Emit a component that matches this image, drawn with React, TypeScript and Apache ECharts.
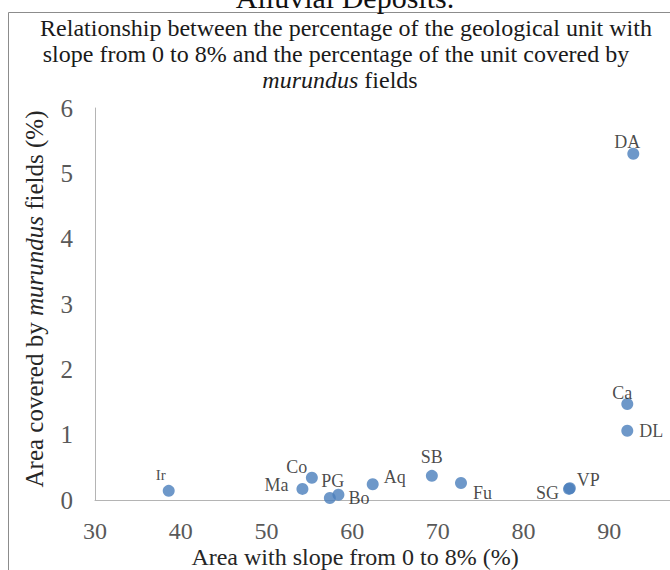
import React, { useEffect, useRef } from "react";
import * as echarts from "echarts";

const unitNames = ["DA", "Ca", "DL", "VP", "SG", "Fu", "SB", "Aq", "PG", "Bo", "Co", "Ma", "Ir"];
const slopeArea = [92.8, 92.1, 92.1, 85.4, 85.3, 72.7, 69.3, 62.4, 57.4, 58.4, 55.3, 54.2, 38.6];
const murundusArea = [5.3, 1.47, 1.06, 0.18, 0.17, 0.26, 0.37, 0.24, 0.03, 0.08, 0.34, 0.17, 0.14];
const xTicks = [30, 40, 50, 60, 70, 80, 90, 100];
const yTicks = [0, 1, 2, 3, 4, 5, 6];

const titleLine1 = [{ text: "Relationship between the percentage of the geological unit with", italic: false }];
const titleLine2 = [{ text: "slope from 0 to 8% and the percentage of the unit covered by", italic: false }];
const titleLine3 = [
  { text: "murundus", italic: true },
  { text: " fields", italic: false },
];
const yName = [
  { text: "Area covered by ", italic: false },
  { text: "murundus", italic: true },
  { text: " fields (%)", italic: false },
];
const xName = [{ text: "Area with slope from 0 to 8% (%)", italic: false }];
const topCaption = "Alluvial Deposits.";

const labelPlacement: Record<string, any> = {
  DA: { position: "top", distance: -3, offset: [-6, 0] },
  Ca: { position: "top", distance: -4, offset: [-5, 0] },
  DL: { position: "right", distance: 6, offset: [0, 0] },
  VP: { position: "right", distance: 1, offset: [0, -8] },
  SG: { position: "left", distance: 4, offset: [0, 4] },
  Fu: { position: "right", distance: 6, offset: [0, 10] },
  SB: { position: "top", distance: 4, offset: [0, 0] },
  Aq: { position: "right", distance: 5, offset: [0, -7] },
  PG: { position: "top", distance: 2, offset: [3, 0] },
  Bo: { position: "right", distance: 4, offset: [0, 3] },
  Co: { position: "top", distance: -4, offset: [-15, 0] },
  Ma: { position: "left", distance: 8, offset: [0, -4] },
  Ir: { position: "top", distance: 2, offset: [-8, 0], fontSize: 15 },
};

const SERIF = "Liberation Serif";

function measure(text: string, size: number, italic: boolean, family: string) {
  const ctx = document.createElement("canvas").getContext("2d");
  if (!ctx) return text.length * size * 0.45;
  ctx.font = `${italic ? "italic " : ""}${size}px "${family}"`;
  return ctx.measureText(text).width;
}

function segmentTexts(segs: { text: string; italic: boolean }[], size: number, color: string, family: string) {
  const widths = segs.map((s) => measure(s.text, size, s.italic, family));
  const total = widths.reduce((a, b) => a + b, 0);
  let cursor = -total / 2;
  return segs.map((s, k) => {
    const style: any = {
      text: s.text,
      fontFamily: family,
      fontSize: size,
      fill: color,
      align: "left",
      verticalAlign: "middle",
    };
    if (s.italic) style.fontStyle = "italic";
    const el = { type: "text", x: cursor, y: 0, style };
    cursor += widths[k];
    return el;
  });
}

function line(
  segs: { text: string; italic: boolean }[],
  x: number,
  y: number,
  size: number,
  color: string,
  rotation = 0
) {
  return { type: "group", x, y, rotation, children: segmentTexts(segs, size, color, SERIF) };
}

export default function App() {
  const ref = useRef<HTMLDivElement>(null);
  useEffect(() => {
    if (!ref.current) return;
    const chart = echarts.init(ref.current, undefined, { renderer: "svg" });
    const data = unitNames.map((n, i) => ({
      name: n,
      value: [slopeArea[i], murundusArea[i]],
      label: { show: true, formatter: n, ...labelPlacement[n] },
    }));
    chart.setOption({
      animation: false,
      backgroundColor: "#ffffff",
      graphic: [
        {
          type: "rect",
          shape: { x: 8.5, y: 12.5, width: 720, height: 620 },
          style: { fill: "none", stroke: "#8c8c8c", lineWidth: 1 },
          z: 0,
        },
        {
          type: "text",
          x: 345,
          y: 12,
          style: {
            text: topCaption,
            fontFamily: SERIF,
            fontSize: 30,
            fill: "#111",
            align: "center",
            verticalAlign: "bottom",
          },
        },
        line(titleLine1, 346, 28, 24, "#1a1a1a"),
        line(titleLine2, 336, 54, 24, "#1a1a1a"),
        line(titleLine3, 340, 80, 24, "#1a1a1a"),
        line(yName, 34, 299, 25, "#262626", Math.PI / 2),
        line(xName, 355, 557, 24, "#262626"),
      ],
      grid: { left: 95, top: 108, width: 600, height: 392, containLabel: false, outerBoundsMode: "none" },
      xAxis: {
        type: "value",
        min: xTicks[0],
        max: xTicks[xTicks.length - 1],
        interval: 10,
        axisLine: { show: true, lineStyle: { color: "#b4b4b4", width: 1 } },
        axisTick: { show: false },
        splitLine: { show: false },
        axisLabel: { fontFamily: SERIF, fontSize: 24, color: "#595959", margin: 19, showMaxLabel: false },
      },
      yAxis: {
        type: "value",
        min: yTicks[0],
        max: yTicks[yTicks.length - 1],
        interval: 1,
        axisLine: { show: true, lineStyle: { color: "#b4b4b4", width: 1 } },
        axisTick: { show: false },
        splitLine: { show: false },
        axisLabel: { fontFamily: SERIF, fontSize: 25, color: "#595959", margin: 22 },
      },
      series: [
        {
          type: "scatter",
          symbol: "circle",
          symbolSize: 12,
          itemStyle: { color: "#4A7EBB" },
          label: { fontFamily: SERIF, fontSize: 18, color: "#1a1a1a" },
          data,
        },
      ],
    });
    return () => chart.dispose();
  }, []);
  return (
    <div
      ref={ref}
      style={{ position: "fixed", left: 0, top: 0, width: 670, height: 570, overflow: "hidden" }}
    />
  );
}
